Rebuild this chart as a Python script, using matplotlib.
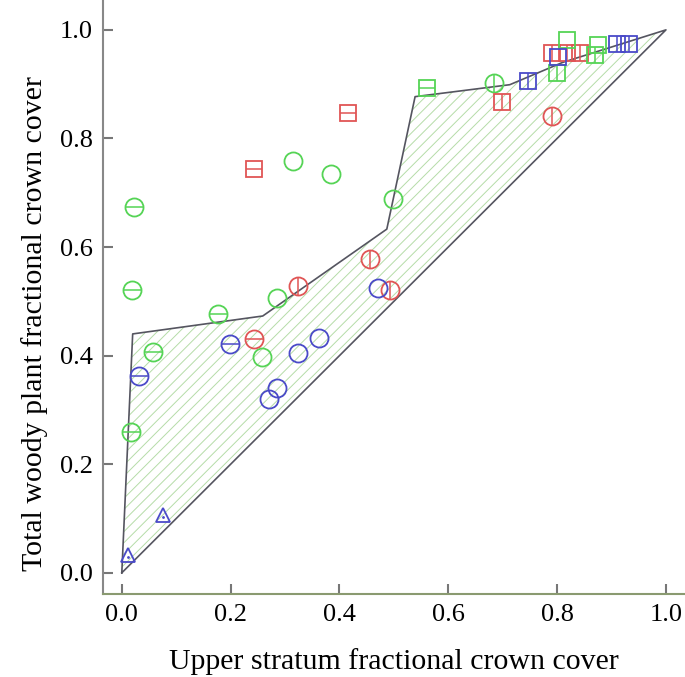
import numpy as np
from matplotlib import pyplot as plt

plt.rcParams['font.family'] = ['Liberation Serif', 'DejaVu Serif']
plt.rcParams['hatch.linewidth'] = 0.7

# boundary of the shaded envelope (upper line, then back down the 1:1 line)
env_x = [0.0, 0.020, 0.259, 0.487, 0.539, 0.713, 0.81, 1.0]
env_y = [0.0, 0.440, 0.473, 0.633, 0.877, 0.899, 0.94, 1.0]

# points: x, y, colour, marker, inner line ('-', '|' or None)
pts_x = [0.022, 0.018, 0.017, 0.057, 0.176, 0.257, 0.285, 0.314, 0.384, 0.498, 0.684,
         0.243, 0.324, 0.457, 0.493, 0.790,
         0.031, 0.199, 0.270, 0.285, 0.324, 0.362, 0.470,
         0.011, 0.075,
         0.243, 0.415, 0.698, 0.790, 0.818, 0.842,
         0.560, 0.818, 0.799, 0.875, 0.869,
         0.746, 0.802, 0.910, 0.932]
pts_y = [0.674, 0.521, 0.260, 0.407, 0.477, 0.398, 0.506, 0.759, 0.735, 0.689, 0.902,
         0.431, 0.529, 0.578, 0.521, 0.842,
         0.363, 0.421, 0.320, 0.340, 0.405, 0.432, 0.525,
         0.033, 0.107,
         0.744, 0.847, 0.867, 0.957, 0.957, 0.957,
         0.893, 0.981, 0.920, 0.972, 0.954,
         0.905, 0.950, 0.974, 0.974]
pts_c = ['g'] * 11 + ['r'] * 5 + ['b'] * 7 + ['b'] * 2 + ['r'] * 6 + ['g'] * 5 + ['b'] * 4
pts_m = ['o'] * 23 + ['^'] * 2 + ['s'] * 15
pts_l = ['-', '-', '-', '-', '-', None, None, None, None, None, '|',
         '-', '|', '|', '|', '|',
         '-', '-', None, None, None, None, None,
         None, None,
         '-', '-', '|', '|', '|', '|',
         '-', None, '|', None, '|',
         '|', None, '|', '|']

farger = {'g': '#55d455', 'r': '#e05555', 'b': '#4a4ac8'}

fig = plt.figure(figsize=(6.85, 6.77), dpi=100)
ax = fig.add_axes([0.150, 0.1226, 0.850, 0.8774])

poly_x = env_x + env_x[::-1][1:]
poly_y = env_y + env_x[::-1][1:]
ax.fill(poly_x, poly_y, facecolor='none', edgecolor='#b5dca8', hatch='///', linewidth=0)
ax.plot(poly_x, poly_y, color='#555560', linewidth=1.2)

for x, y, c, m, l in zip(pts_x, pts_y, pts_c, pts_m, pts_l):
    ms = 13 if m == 'o' else 11.5
    if m == '^':
        ms = 10.5
    ax.plot(x, y, marker=m, markersize=ms, markerfacecolor='none',
            markeredgecolor=farger[c], markeredgewidth=1.3, linestyle='none')
    if l is not None:
        ax.plot(x, y, marker='_' if l == '-' else '|', markersize=ms,
                markeredgecolor=farger[c], markeredgewidth=1.1, linestyle='none')
    if m == '^':
        ax.plot(x, y - 0.004, marker='.', markersize=2, color=farger[c])

ax.set_xlim(-0.035, 1.035)
ax.set_ylim(-0.039, 1.055)
ax.set_xticks(np.arange(0, 1.01, 0.2))
ax.set_yticks(np.arange(0, 1.01, 0.2))
ax.set_xticklabels(['%.1f' % v for v in np.arange(0, 1.01, 0.2)])
ax.set_yticklabels(['%.1f' % v for v in np.arange(0, 1.01, 0.2)])

ax.spines['top'].set_visible(False)
ax.spines['right'].set_visible(False)
ax.spines['left'].set_color('#888888')
ax.spines['left'].set_linewidth(1.5)
ax.spines['bottom'].set_color('#8a9a70')
ax.spines['bottom'].set_linewidth(1.5)
ax.tick_params(direction='in', length=7, width=1.5, color='#777777',
               labelsize=19, pad=7)

ax.set_xlabel("Upper stratum fractional crown cover", fontsize=21.5, labelpad=16)
ax.set_ylabel("Total woody plant fractional crown cover", fontsize=21.5)
ax.yaxis.set_label_coords(-0.094, 0.455)

fig.savefig('out.png', dpi=100)
